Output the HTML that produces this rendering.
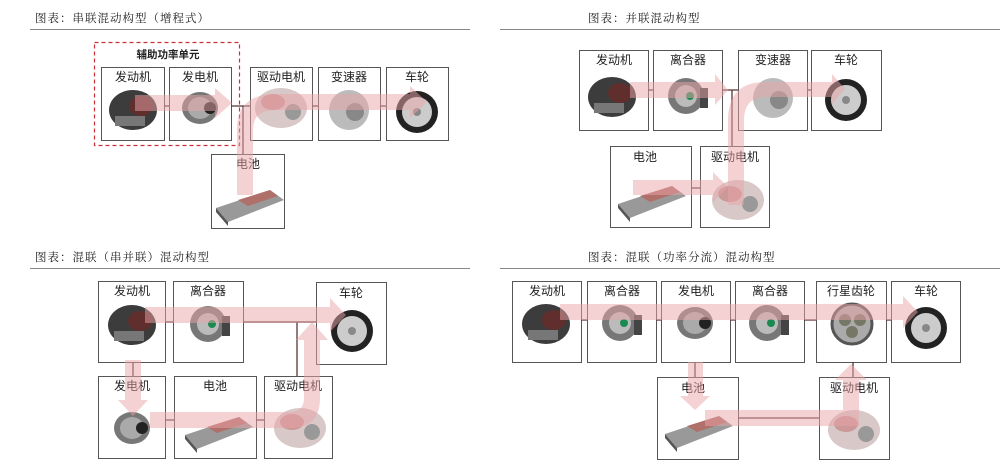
<!DOCTYPE html>
<html><head><meta charset="utf-8"><style>
html,body{margin:0;padding:0;background:#fff;}
svg{display:block;}
text{font-family:"Liberation Sans","Noto Sans CJK SC",sans-serif;fill:#333;}
.t{font-family:"Noto Serif CJK SC","Liberation Serif",serif;font-size:11.5px;fill:#222;letter-spacing:1px;}
.l{font-size:12px;text-anchor:middle;fill:#222;}
.b{fill:#fff;stroke:#555;stroke-width:1;}
.c{stroke:#5a3535;stroke-width:1.3;fill:none;}
.a{fill:#e9a3a8;opacity:.5;}
</style></head><body>
<svg width="1000" height="465" viewBox="0 0 1000 465">
<defs>
<g id="eng"><ellipse cx="0" cy="0" rx="24" ry="20" fill="#3c3c3c"/><ellipse cx="8" cy="-4" rx="12" ry="10" fill="#6a2a2a" opacity=".8"/><rect x="-18" y="6" width="30" height="10" fill="#777"/></g>
<g id="gen"><ellipse cx="0" cy="0" rx="18" ry="16" fill="#777"/><ellipse cx="0" cy="0" rx="12" ry="11" fill="#aaa"/><circle cx="10" cy="0" r="6" fill="#222"/></g>
<g id="mot"><ellipse cx="0" cy="0" rx="26" ry="20" fill="#d8c8c8"/><circle cx="12" cy="4" r="8" fill="#999"/><ellipse cx="-8" cy="-6" rx="12" ry="8" fill="#c99" /></g>
<g id="gbx"><ellipse cx="0" cy="0" rx="20" ry="20" fill="#bbb"/><circle cx="6" cy="2" r="9" fill="#888"/></g>
<g id="whl"><circle r="21" fill="#222"/><circle r="15" fill="#ccc"/><circle r="4" fill="#888"/></g>
<g id="bat"><polygon points="-32,4 22,-14 36,-4 -20,18" fill="#999"/><polygon points="-10,-4 22,-14 30,-8 0,2" fill="#b0706a"/><polygon points="-32,4 -20,18 -20,22 -32,8" fill="#555"/></g>
<g id="clu"><circle r="18" fill="#777"/><circle r="11" fill="#bbb"/><circle cx="4" r="4" fill="#1a8a50"/><rect x="14" y="-8" width="8" height="20" fill="#444"/></g>
<g id="pla"><circle r="20" fill="#aaa" stroke="#555" stroke-width="3"/><circle cx="-7" cy="-4" r="6" fill="#776"/><circle cx="8" cy="-4" r="6" fill="#776"/><circle cx="0" cy="8" r="6" fill="#776"/></g>
</defs>

<text class="t" x="35" y="22">图表：串联混动构型（增程式）</text>
<line x1="30" y1="29.5" x2="470" y2="29.5" stroke="#888" stroke-width="1"/>
<text class="t" x="588" y="22">图表：并联混动构型</text>
<line x1="500" y1="29.5" x2="1000" y2="29.5" stroke="#888" stroke-width="1"/>
<text class="t" x="35" y="261">图表：混联（串并联）混动构型</text>
<line x1="30" y1="268.5" x2="470" y2="268.5" stroke="#888" stroke-width="1"/>
<text class="t" x="588" y="261">图表：混联（功率分流）混动构型</text>
<line x1="500" y1="268.5" x2="1000" y2="268.5" stroke="#888" stroke-width="1"/>

<!-- Panel 1 -->
<rect x="94.5" y="42.5" width="145" height="103" fill="none" stroke="#c8303a" stroke-width="1.2" stroke-dasharray="4,3"/>
<text x="168" y="58" class="l" style="font-weight:bold;font-size:10.5px;fill:#222">辅助功率单元</text>
<rect class="b" x="101.5" y="67.5" width="63" height="73"/>
<rect class="b" x="169.5" y="67.5" width="62" height="73"/>
<rect class="b" x="250.5" y="67.5" width="62" height="73"/>
<rect class="b" x="318.5" y="67.5" width="62" height="73"/>
<rect class="b" x="386.5" y="67.5" width="62" height="73"/>
<rect class="b" x="211.5" y="154.5" width="73" height="74"/>
<text class="l" x="133" y="81">发动机</text><text class="l" x="200" y="81">发电机</text>
<text class="l" x="281" y="81">驱动电机</text><text class="l" x="349" y="81">变速器</text>
<text class="l" x="417" y="81">车轮</text><text class="l" x="248" y="168">电池</text>
<use href="#eng" x="133" y="110"/><use href="#gen" x="200" y="108"/><use href="#mot" x="281" y="108"/>
<use href="#gbx" x="349" y="110"/><use href="#whl" x="417" y="112"/><use href="#bat" x="248" y="204"/>
<path class="c" d="M164 106H169 M231 106H250 M243 106V154 M312 106H318 M380 106H386"/>
<path class="a" d="M135 95H215V88L232 103L215 118V111H135Z"/>
<path class="a" d="M237 195V130Q237 94 275 94H410V86L427 102L410 118V110H275Q253 110 253 130V195Z"/>

<!-- Panel 2 -->
<rect class="b" x="579.5" y="50.5" width="69" height="80"/>
<rect class="b" x="653.5" y="50.5" width="69" height="80"/>
<rect class="b" x="738.5" y="50.5" width="69" height="80"/>
<rect class="b" x="811.5" y="50.5" width="70" height="80"/>
<rect class="b" x="610.5" y="146.5" width="81" height="81"/>
<rect class="b" x="700.5" y="146.5" width="69" height="81"/>
<text class="l" x="614" y="64">发动机</text><text class="l" x="688" y="64">离合器</text>
<text class="l" x="773" y="64">变速器</text><text class="l" x="846" y="64">车轮</text>
<text class="l" x="645" y="161">电池</text><text class="l" x="735" y="161">驱动电机</text>
<use href="#eng" x="612" y="97"/><use href="#clu" x="686" y="96"/><use href="#gbx" x="773" y="98"/>
<use href="#whl" x="846" y="100"/><use href="#bat" x="650" y="200"/><use href="#mot" x="738" y="200"/>
<path class="c" d="M648 90H653 M722 90H738 M732 90V146 M807 90H811 M691 188H700"/>
<path class="a" d="M630 82H715V74L728 90L715 105V98H630Z"/>
<path class="a" d="M728 205V120Q728 82 766 82H832V74L845 89L832 104V97H766Q744 97 744 120V205Z"/>
<path class="a" d="M633 180H713V172L728 187L713 202V195H633Z"/>

<!-- Panel 3 -->
<rect class="b" x="98.5" y="281.5" width="67" height="81"/>
<rect class="b" x="173.5" y="281.5" width="70" height="81"/>
<rect class="b" x="316.5" y="282.5" width="70" height="82"/>
<rect class="b" x="98.5" y="376.5" width="67" height="82"/>
<rect class="b" x="174.5" y="376.5" width="82" height="82"/>
<rect class="b" x="264.5" y="376.5" width="68" height="82"/>
<text class="l" x="132" y="295">发动机</text><text class="l" x="208" y="295">离合器</text>
<text class="l" x="351" y="297">车轮</text><text class="l" x="132" y="390">发电机</text>
<text class="l" x="215" y="390">电池</text><text class="l" x="298" y="390">驱动电机</text>
<use href="#eng" x="132" y="325"/><use href="#clu" x="208" y="324"/><use href="#whl" x="352" y="331"/>
<use href="#gen" x="132" y="428"/><use href="#bat" x="217" y="431"/><use href="#mot" x="300" y="428"/>
<path class="c" d="M165 322H173 M243 322H316 M297 322V376 M133 362V376 M165 420H174 M256 420H264"/>
<path class="a" d="M145 307H330V298L346 315L330 332V323H145Z"/>
<path class="a" d="M125 360H141V400H148L133 416L118 400H125Z"/>
<path class="a" d="M150 412H290Q304 412 304 398V340H296L312 322L328 340H320V398Q320 428 290 428H150Z"/>

<!-- Panel 4 -->
<rect class="b" x="512.5" y="281.5" width="69" height="81"/>
<rect class="b" x="587.5" y="281.5" width="69" height="81"/>
<rect class="b" x="661.5" y="281.5" width="69" height="81"/>
<rect class="b" x="735.5" y="281.5" width="69" height="81"/>
<rect class="b" x="816.5" y="281.5" width="70" height="81"/>
<rect class="b" x="891.5" y="281.5" width="69" height="81"/>
<rect class="b" x="657.5" y="377.5" width="81" height="82"/>
<rect class="b" x="819.5" y="377.5" width="70" height="82"/>
<text class="l" x="547" y="295">发动机</text><text class="l" x="622" y="295">离合器</text>
<text class="l" x="696" y="295">发电机</text><text class="l" x="770" y="295">离合器</text>
<text class="l" x="851" y="295">行星齿轮</text><text class="l" x="926" y="295">车轮</text>
<text class="l" x="693" y="392">电池</text><text class="l" x="854" y="392">驱动电机</text>
<use href="#eng" x="546" y="324"/><use href="#clu" x="620" y="323"/><use href="#gen" x="695" y="323"/>
<use href="#clu" x="767" y="323"/><use href="#pla" x="852" y="324"/><use href="#whl" x="926" y="328"/>
<use href="#bat" x="697" y="430"/><use href="#mot" x="854" y="430"/>
<path class="c" d="M581 320H587 M656 320H661 M730 320H735 M804 320H816 M886 320H891 M695 362V377 M853 362V377 M738 418H819"/>
<path class="a" d="M560 304H903V296L918 312L903 328V320H560Z"/>
<path class="a" d="M688 362H703V396H710L695 410L680 396H688Z"/>
<path class="a" d="M705 410H843V380H835L851 364L867 380H859V426H705Z"/>
</svg>
</body></html>
